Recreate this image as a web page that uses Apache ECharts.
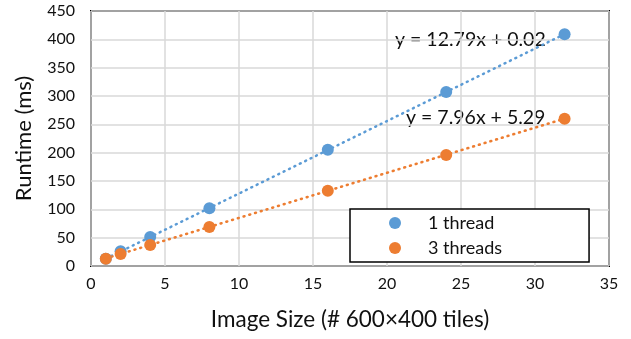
<!DOCTYPE html>
<html>
<head>
<meta charset="utf-8">
<script src="https://cdn.jsdelivr.net/npm/echarts@6/dist/echarts.min.js"></script>
<style>
  html, body { margin: 0; padding: 0; background: #fff; }
  #chart { width: 631px; height: 339px; }
</style>
</head>
<body>
<div id="chart"></div>
<script>
// tile counts and measured runtimes
var sizes = [1, 2, 4, 8, 16, 24, 32];
var oneThread = [13, 26, 51, 102, 205, 307, 409];
var threeThreads = [13, 21, 37, 69, 133, 196, 260];

// linear trendlines (end points)
var trendOne = [[1, 12.8], [32, 409.3]];
var trendThree = [[1, 13.3], [32, 260.0]];
var eqOne = 'y = 12.79x + 0.02';
var eqThree = 'y = 7.96x + 5.29';

var blue = '#5b9bd5';
var orange = '#ed7d31';
var font = 'Lato';

function pairs(xs, ys) {
  return xs.map(function (x, i) { return [x, ys[i]]; });
}

var chart = echarts.init(document.getElementById('chart'));

var option = {
  animation: false,
  textStyle: { fontFamily: font },
  grid: {
    left: 91, right: 22, top: 11, bottom: 73,
    show: true, borderColor: '#000', borderWidth: 2
  },
  xAxis: {
    type: 'value', min: 0, max: 35, interval: 5,
    name: 'Image Size (# 600×400 tiles)',
    nameLocation: 'middle', nameGap: 42,
    nameTextStyle: { fontSize: 22.5, color: '#111', fontFamily: font },
    axisLine: { show: false },
    axisTick: { show: false },
    axisLabel: { fontSize: 16, color: '#111', margin: 10 },
    splitLine: { lineStyle: { color: '#d9d9d9', width: 1.5 } }
  },
  yAxis: {
    type: 'value', min: 0, max: 450, interval: 50,
    name: 'Runtime (ms)',
    nameLocation: 'middle', nameGap: 56,
    nameTextStyle: { fontSize: 22, color: '#111', fontFamily: font },
    axisLine: { show: false },
    axisTick: { show: false },
    axisLabel: { fontSize: 16, color: '#111', margin: 16 },
    splitLine: { lineStyle: { color: '#d9d9d9', width: 1.5 } }
  },
  legend: {
    data: ['1 thread', '3 threads'],
    orient: 'vertical',
    left: 350, top: 209,
    padding: [5, 87, 5, 39],
    itemGap: 7,
    itemWidth: 12, itemHeight: 12,
    borderColor: '#000', borderWidth: 1.5,
    backgroundColor: '#fff',
    textStyle: { fontSize: 18, color: '#111', padding: [0, 0, 0, 22] }
  },
  graphic: [
    { type: 'text', left: 395, top: 30, style: { text: eqOne, fontSize: 19.5, fill: '#111', fontFamily: font } },
    { type: 'text', left: 406, top: 108, style: { text: eqThree, fontSize: 19.5, fill: '#111', fontFamily: font } }
  ],
  series: [
    {
      name: 'trend1', type: 'line', data: trendOne, showSymbol: false, silent: true,
      lineStyle: { color: blue, width: 2.5, type: [1, 5], cap: 'round' }, z: 1
    },
    {
      name: 'trend3', type: 'line', data: trendThree, showSymbol: false, silent: true,
      lineStyle: { color: orange, width: 2.5, type: [1, 5], cap: 'round' }, z: 1
    },
    {
      name: '1 thread', type: 'scatter', data: pairs(sizes, oneThread),
      symbolSize: 12, itemStyle: { color: blue, opacity: 1 }, z: 3
    },
    {
      name: '3 threads', type: 'scatter', data: pairs(sizes, threeThreads),
      symbolSize: 12, itemStyle: { color: orange, opacity: 1 }, z: 4
    }
  ]
};

chart.setOption(option);
</script>
</body>
</html>
